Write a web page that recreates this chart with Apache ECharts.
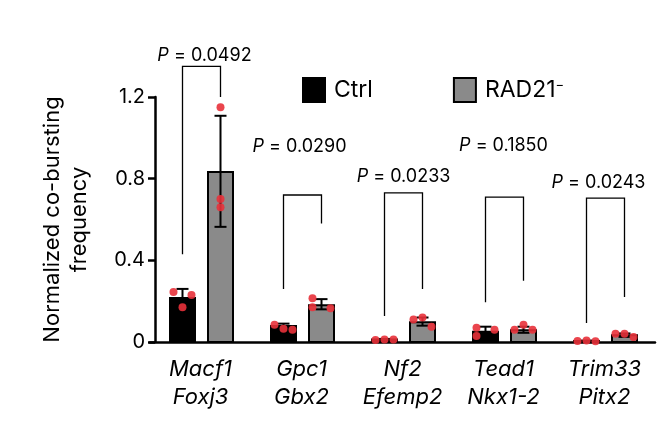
<!DOCTYPE html>
<html><head><meta charset="utf-8">
<script src="https://cdn.jsdelivr.net/npm/echarts@6/dist/echarts.min.js"></script>
<style>html,body{margin:0;background:#fff}#c{width:657px;height:431px}</style>
</head><body><div id="c"></div>
<script>
const categories = ['Macf1\nFoxj3','Gpc1\nGbx2','Nf2\nEfemp2','Tead1\nNkx1-2','Trim33\nPitx2'];
const ctrlMean = [0.215, 0.078, 0.012, 0.05, 0.005];
const ctrlErrTop = [0.26, 0.09, 0.015, 0.075, 0.007];
const ctrlDots = [[0.245,0.23,0.17],[0.085,0.065,0.06],[0.01,0.012,0.012],[0.07,0.06,0.03],[0.005,0.007,0.004]];
const radMean = [0.833, 0.18, 0.097, 0.057, 0.033];
const radErrLow = [0.564, 0.16, 0.08, 0.045, 0.025];
const radErrTop = [1.108, 0.21, 0.12, 0.075, 0.042];
const radDots = [[1.15,0.70,0.66],[0.214,0.17,0.165],[0.12,0.11,0.075],[0.085,0.06,0.06],[0.04,0.04,0.025]];
const bracketTop = [1.35, 0.72, 0.73, 0.71, 0.705];
const bracketLeft = [0.43, 0.26, 0.127, 0.195, 0.093];
const bracketRight = [1.20, 0.58, 0.26, 0.30, 0.22];
const pLabels = ['0.0492','0.0290','0.0233','0.1850','0.0243'];
const pLabelY = [1.405, 0.955, 0.81, 0.96, 0.78];
const pLabelDx = [4, -2, 1, 0, -6];

const OFF_C = -18, OFF_R = 20, BW = 25;
function barSeries(name, mean, color, off, errLow, errTop, dots, spread){
  return {type:'custom', name, itemStyle:{color, borderColor:'#000'}, clip:false, z:2,
    data: mean.map((v,i)=>[i,v]),
    renderItem(params, api){
      const i = api.value(0);
      const base = api.coord([i,0]), top = api.coord([i,api.value(1)]);
      const x = base[0]+off;
      const ch = [{type:'rect', shape:{x:x-BW/2, y:top[1], width:BW, height:base[1]-top[1]},
        style:{fill:color, stroke:'#000', lineWidth:2}}];
      const et = api.coord([i,errTop[i]])[1];
      const el = api.coord([i,errLow ? errLow[i] : mean[i]])[1];
      ch.push({type:'line', shape:{x1:x,y1:et,x2:x,y2:el}, style:{stroke:'#000',lineWidth:2}});
      ch.push({type:'line', shape:{x1:x-6,y1:et,x2:x+6,y2:et}, style:{stroke:'#000',lineWidth:2}});
      if (errLow) ch.push({type:'line', shape:{x1:x-6,y1:el,x2:x+6,y2:el}, style:{stroke:'#000',lineWidth:2}});
      const dx = spread[i];
      dots[i].forEach((d,k)=>{ const p=api.coord([i,d]);
        ch.push({type:'circle', shape:{cx:x+dx[k], cy:p[1], r:4}, style:{fill:'#e8313a', opacity:0.9}});});
      return {type:'group', children:ch};
    }};
}
const sprC = [[-9,9,0],[-9,0,9],[-9,0,9],[-9,9,-9],[-9,0,9]];
const sprR = [[0,0,0],[-9,-9,9],[0,-9,9],[0,-9,9],[0,-9,9]];
const chart = echarts.init(document.getElementById('c'));
chart.setOption({
  animation:false,
  grid:{left:150, right:2, top:97, bottom:89},
  legend:{left:297, top:72, itemWidth:22, itemHeight:24, itemGap:80, icon:'rect',
    textStyle:{fontSize:23, color:'#000', fontFamily:'Inter', padding:[0,0,0,4],
      rich:{s:{fontSize:13, verticalAlign:'top', padding:[0,0,10,0], color:'#000'}}},
    itemStyle:{borderColor:'#000', borderWidth:2},
    formatter:n=> n==='RAD21' ? 'RAD21{s|−}' : n,
    data:['Ctrl','RAD21']},
  xAxis:{type:'category', data:categories,
    axisLine:{lineStyle:{color:'#000', width:2.5}},
    axisTick:{alignWithLabel:true, length:7, lineStyle:{color:'#000', width:2.5}},
    axisLabel:{fontSize:22, fontStyle:'italic', color:'#000', fontFamily:'Inter', lineHeight:28, margin:13, interval:0}},
  yAxis:{type:'value', min:0, max:1.2, interval:0.4, offset:-5,
    name:'Normalized co-bursting\nfrequency', nameLocation:'middle', nameGap:62, nameRotate:90,
    nameTextStyle:{fontSize:22, color:'#000', fontFamily:'Inter', lineHeight:27},
    axisLine:{show:true, lineStyle:{color:'#000', width:2.5}},
    axisTick:{show:true, length:7, lineStyle:{color:'#000', width:2.5}},
    splitLine:{show:false},
    axisLabel:{fontSize:20, color:'#000', fontFamily:'Inter', margin:10, formatter:v=>v===0?'0':v.toFixed(1)}},
  series:[
    barSeries('Ctrl', ctrlMean, '#000', OFF_C, null, ctrlErrTop, ctrlDots, sprC),
    barSeries('RAD21', radMean, '#8a8a8a', OFF_R, radErrLow, radErrTop, radDots, sprR),
    {type:'custom', clip:false, z:3, silent:true,
      data: bracketTop.map((v,i)=>[i,v]),
      renderItem(params, api){
        const i = api.value(0);
        const c = api.coord([i,bracketTop[i]]);
        const xl=c[0]+OFF_C, xr=c[0]+OFF_R;
        const yl=api.coord([i,bracketLeft[i]])[1], yr=api.coord([i,bracketRight[i]])[1];
        const ly=api.coord([i,pLabelY[i]])[1];
        return {type:'group', children:[
          {type:'polyline', shape:{points:[[xl,yl],[xl,c[1]],[xr,c[1]],[xr,yr]]}, style:{stroke:'#000', lineWidth:1.3, fill:null}},
          {type:'text', x:c[0]+pLabelDx[i], y:ly, style:{text:'{i|P} = '+pLabels[i], align:'center', verticalAlign:'middle',
            fontSize:18, fontFamily:'Inter', fill:'#000', rich:{i:{fontStyle:'italic', fontSize:18, fontFamily:'Inter'}}}}
        ]};
      }}
  ]
});
</script></body></html>
